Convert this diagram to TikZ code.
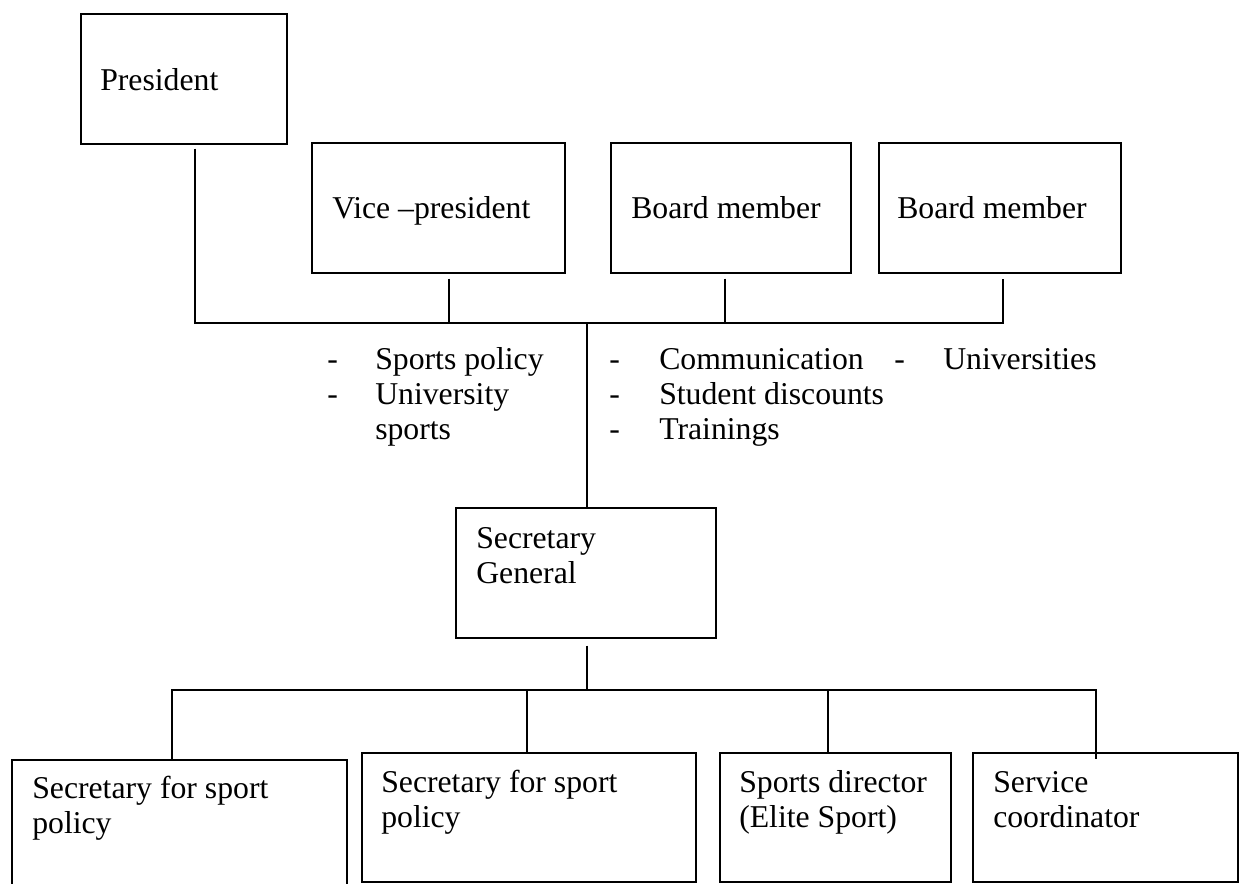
\documentclass[tikz,border=0pt]{standalone}
\usepackage{fontspec}
\setmainfont{Liberation Serif}
\usetikzlibrary{calc}

\begin{document}
\begin{tikzpicture}[x=0.75pt, y=-0.75pt,
    post/.style 2 args={draw, line width=1.3pt, inner sep=0pt, anchor=north west,
        minimum width=#1*0.75pt, minimum height=#2*0.75pt},
    txt/.style={anchor=base west, inner sep=0pt, align=left,
        font=\fontsize{23.8pt}{26.25pt}\selectfont},
    link/.style={draw, line width=1.3pt}
]
    \useasboundingbox (0,0) rectangle (1240,883);

    % board
    \node[post={206}{130}] (pres) at (80,13) {};
    \node[post={253}{130}] (vp) at (311,142) {};
    \node[post={240}{130}] (bm1) at (610,142) {};
    \node[post={242}{130}] (bm2) at (878,142) {};
    \node[txt] (presT) at (100,90) {President};
    \node[txt] (vpT) at (332,218) {Vice –president};
    \node[txt] (bm1T) at (631,218) {Board member};
    \node[txt] (bm2T) at (897,218) {Board member};

    \coordinate (hubL) at (195,323);
    \coordinate (hubR) at (1003,323);
    \coordinate (hubV) at (449,323);
    \coordinate (hubB) at (725,323);
    \coordinate (hub) at (587,323);
    \draw[link] ($(pres.south -| hubL)+(0,4)$) -- (hubL) -- (hubR) -- ($(bm2.south -| hubR)+(0,5)$);
    \draw[link] ($(vp.south -| hubV)+(0,5)$) -- (hubV);
    \draw[link] ($(bm1.south -| hubB)+(0,5)$) -- (hubB);

    % tasks (multi-line texts sit on their last baseline)
    \node[txt] (d1) at (327,369) {-};
    \node[txt] (d2) at (327,404) {-};
    \node[txt] (t1) at (375,369) {Sports policy};
    \node[txt] (t2) at (375,439) {University\\sports};
    \node[txt] (d3) at (609,369) {-};
    \node[txt] (d4) at (609,404) {-};
    \node[txt] (d5) at (609,439) {-};
    \node[txt] (t3) at (659,369) {Communication};
    \node[txt] (t4) at (659,404) {Student discounts};
    \node[txt] (t5) at (659,439) {Trainings};
    \node[txt] (d6) at (894,369) {-};
    \node[txt] (t6) at (943,369) {Universities};

    % secretary general
    \node[post={260}{130}] (sg) at (455,507) {};
    \node[txt] (sgT) at (476,583) {Secretary\\General};
    \draw[link] (hub) -- (sg.north -| hub);

    \coordinate (hub2) at (587,690);
    \coordinate (bL) at (172,690);
    \coordinate (bR) at (1096,690);
    \coordinate (b2) at (527,690);
    \coordinate (b3) at (828,690);
    \draw[link] ($(sg.south -| hub2)+(0,7)$) -- (hub2);

    % staff
    \node[post={335}{128}] (sec1) at (11,759) {};
    \node[post={334}{129}] (sec2) at (361,752) {};
    \node[post={231}{129}] (dir) at (719,752) {};
    \node[post={265}{129}] (svc) at (972,752) {};
    \node[txt] (sec1T) at (32,833) {Secretary for sport\\policy};
    \node[txt] (sec2T) at (381,827) {Secretary for sport\\policy};
    \node[txt] (dirT) at (739,827) {Sports director\\(Elite Sport)};
    \node[txt] (svcT) at (993,827) {Service\\coordinator};

    \draw[link] (sec1.north -| bL) -- (bL) -- (bR) -- ($(svc.north -| bR)+(0,7)$);
    \draw[link] (b2) -- (sec2.north -| b2);
    \draw[link] (b3) -- (dir.north -| b3);
\end{tikzpicture}
\end{document}
